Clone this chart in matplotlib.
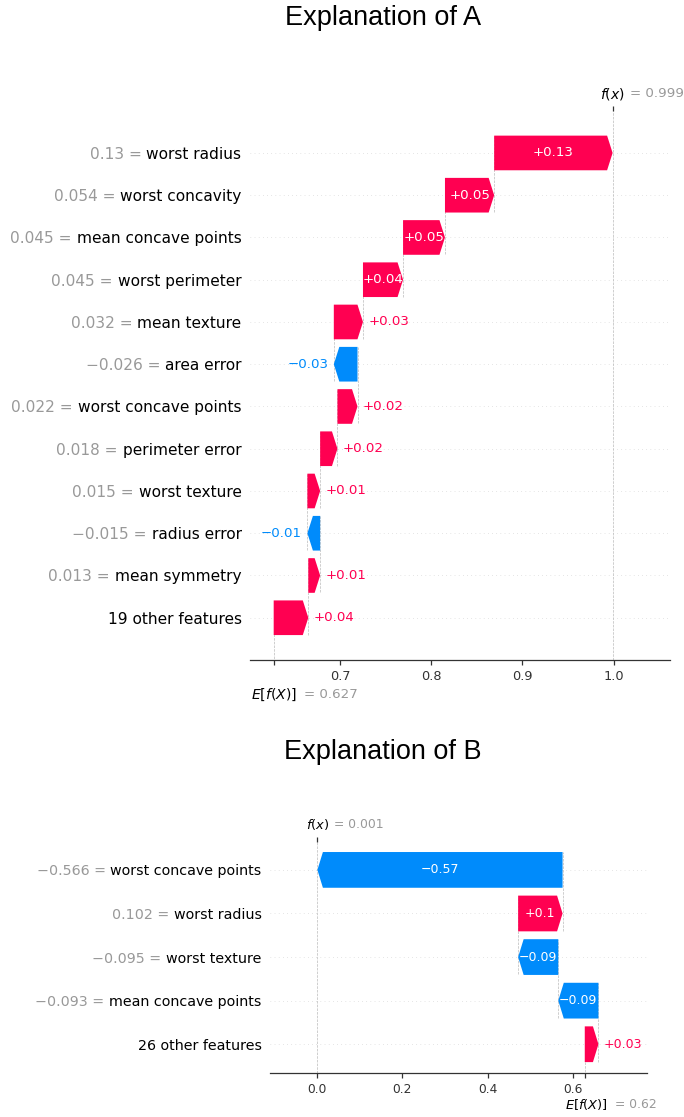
import numpy as np
import matplotlib.pyplot as plt
from matplotlib.transforms import offset_copy, Bbox, TransformedBbox

RED = "#ff0051"
BLUE = "#008bfb"
GREY = "#999999"
DARK = "#333333"

# explanation A (rows from top to bottom, last row = remaining features)
a_names = ["worst radius", "worst concavity", "mean concave points", "worst perimeter",
           "mean texture", "area error", "worst concave points", "perimeter error",
           "worst texture", "radius error", "mean symmetry"]
a_feature_vals = [0.13, 0.054, 0.045, 0.045, 0.032, -0.026, 0.022, 0.018, 0.015, -0.015, 0.013]
a_shap = [0.13, 0.054, 0.046, 0.044, 0.032, -0.026, 0.022, 0.019, 0.014, -0.014, 0.013, 0.038]
a_rest = "19 other features"
a_base = 0.627
a_xticks = [0.7, 0.8, 0.9, 1.0]

# explanation B
b_names = ["worst concave points", "worst radius", "worst texture", "mean concave points"]
b_feature_vals = [-0.566, 0.102, -0.095, -0.093]
b_shap = [-0.574, 0.104, -0.094, -0.094, 0.032]
b_rest = "26 other features"
b_base = 0.627
b_xticks = [0.0, 0.2, 0.4, 0.6]


def fmt(v, f):
    s = (f % v).rstrip("0").rstrip(".")
    return s.replace("-", "\u2212")


fig = plt.figure(figsize=(6.84, 11.17), dpi=100)
W, H = 684, 1117
renderer = fig.canvas.get_renderer()


def px_box(l, t, r, b):
    return [l / W, 1 - b / H, (r - l) / W, (b - t) / H]


def waterfall(ax, names, fvals, shap, rest, base, xticks, xlim, ylim,
              fs_feat, fs_tick, fs_bar, fs_fx, e_drop, clip_right=None):
    n = len(shap)
    rows = np.arange(n)[::-1]
    fx = base + sum(shap)
    ax.set_xlim(*xlim)
    ax.set_ylim(*ylim)
    ppu = ax.transData.transform((1, 0))[0] - ax.transData.transform((0, 0))[0]
    h = 0.82

    for r in rows:
        ax.axhline(r, color="#cccccc", lw=0.5, dashes=(1, 5), zorder=-2)

    # bars from the bottom (base value) upward
    loc = base
    for i in range(n - 1, -1, -1):
        v = shap[i]
        y = rows[i]
        start, end = loc, loc + v
        hl = min(5.5 / ppu, abs(v))
        sgn = 1 if v > 0 else -1
        xs = [start, end - sgn * hl, end, end - sgn * hl, start]
        ys = [y - h / 2, y - h / 2, y, y + h / 2, y + h / 2]
        color = RED if v > 0 else BLUE
        ax.fill(xs, ys, color=color, lw=0, zorder=2)
        ax.plot([start, start], [y - 1 - 0.4, y + 0.4], color="#bbbbbb", ls="--",
                lw=0.5, zorder=-1)
        txt = ax.text((start + end) / 2, y, fmt(v, "%+0.02f"), ha="center", va="center",
                      color="white", fontsize=fs_bar, zorder=3)
        tw = txt.get_window_extent(renderer).width
        if tw > abs(v) * ppu + 3:
            txt.remove()
            off = offset_copy(ax.transData, fig=fig, x=sgn * 5.5 * 0.72, y=0, units="points")
            ax.text(end, y, fmt(v, "%+0.02f"), ha="left" if v > 0 else "right",
                    va="center", color=color, fontsize=fs_bar, transform=off, zorder=3)
        loc = end

    ax.axvline(fx, 0, 1, color="#bbbbbb", ls="--", lw=0.5, zorder=-1)

    # feature names in black, their values in grey to the left
    pad_px = 8.5
    ax.set_yticks(rows, list(names) + [rest], fontsize=fs_feat)
    ax.tick_params(axis="y", length=0, pad=pad_px * 0.72)
    for y, nm, fv in zip(rows, names, fvals):
        probe = ax.text(0, 0, nm, fontsize=fs_feat)
        w = probe.get_window_extent(renderer).width
        probe.remove()
        sp = 0.318 * fs_feat / 72 * 100
        tr = offset_copy(ax.get_yaxis_transform(), fig=fig,
                         x=-(pad_px + w + sp) * 0.72, y=0, units="points")
        ax.text(0, y, fmt(fv, "%0.03f") + " =", ha="right", va="center_baseline",
                fontsize=fs_feat, color=GREY, transform=tr)

    ax.set_xticks([base] + list(xticks), [""] + ["%.1f" % t for t in xticks])
    ax.tick_params(axis="x", labelsize=fs_tick, colors=DARK, length=3.5, width=0.9)
    for s in ["top", "right", "left"]:
        ax.spines[s].set_visible(False)
    ax.spines["bottom"].set_color(DARK)
    ax.spines["bottom"].set_linewidth(0.9)

    ax2 = ax.twiny()
    ax2.set_xlim(*xlim)
    ax2.set_xticks([fx], [""])
    ax2.tick_params(axis="x", colors=DARK, length=3.5, width=0.9)
    for s in ax2.spines.values():
        s.set_visible(False)

    top = offset_copy(ax.get_xaxis_transform(), fig=fig, x=0, y=17 * 0.72, units="points")
    ax.text(fx, 1, "$f(x)$", ha="center", va="center", fontsize=fs_fx + 0.5,
            color="black", transform=top)
    top2 = offset_copy(ax.get_xaxis_transform(), fig=fig, x=17 * 0.72, y=17 * 0.72, units="points")
    ax.text(fx, 1, "= " + fmt(fx, "%0.03f"), ha="left", va="center", fontsize=fs_fx,
            color=GREY, transform=top2)

    bl = offset_copy(ax.get_xaxis_transform(), fig=fig, x=23 * 0.72, y=-e_drop * 0.72, units="points")
    ax.text(base, 0, "$E[f(X)]$", ha="right", va="center", fontsize=fs_fx + 0.5,
            color="black", transform=bl)
    br = offset_copy(ax.get_xaxis_transform(), fig=fig, x=30 * 0.72, y=-e_drop * 0.72, units="points")
    et = ax.text(base, 0, "= " + fmt(base, "%0.03f"), ha="left", va="center",
                 fontsize=fs_fx, color=GREY, transform=br)
    if clip_right is not None:
        et.set_clip_box(TransformedBbox(Bbox([[0, 0], [clip_right / W, 1]]), fig.transFigure))
        et.set_clip_on(True)


ax_a = fig.add_axes(px_box(250, 110.7, 670, 660))
waterfall(ax_a, a_names, a_feature_vals, a_shap, a_rest, a_base, a_xticks,
          (0.601, 1.062), (-1, 12), 11.1, 9.3, 9.65, 9.6, 35)

ax_b = fig.add_axes(px_box(270, 842, 646.7, 1073))
waterfall(ax_b, b_names, b_feature_vals, b_shap, b_rest, b_base, b_xticks,
          (-0.110, 0.772), (-0.66, 4.64), 10.3, 8.8, 9.0, 8.9, 31, clip_right=657)

fig.text(383 / W, 1 - 18 / H, "Explanation of A", ha="center", va="center",
         fontsize=19.5, family="Liberation Sans")
fig.text(383 / W, 1 - 752 / H, "Explanation of B", ha="center", va="center",
         fontsize=19.5, family="Liberation Sans")

fig.savefig("out.png", dpi=100)
